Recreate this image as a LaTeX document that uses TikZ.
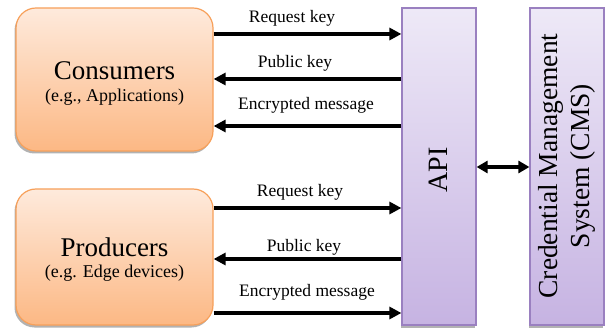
\documentclass[tikz,border=0pt]{standalone}
\usepackage{fontspec}
\setmainfont{Liberation Serif}
\usetikzlibrary{arrows.meta,shadows}
\definecolor{ortop}{HTML}{FEEADC}
\definecolor{orbot}{HTML}{FCB884}
\definecolor{orbd}{HTML}{F7A05A}
\definecolor{putop}{HTML}{EEE9F7}
\definecolor{pubot}{HTML}{C6B3E2}
\definecolor{pubd}{HTML}{9A80C0}
\begin{document}
\begin{tikzpicture}[x=1pt,y=1pt,
  orangebox/.style={draw=orbd, line width=1.2pt, rounded corners=20pt,
    top color=ortop, bottom color=orbot, minimum width=197pt,
    drop shadow={shadow xshift=-1.5pt, shadow yshift=-2.5pt, opacity=0.3, fill=black}},
  purplebox/.style={draw=pubd, line width=1.2pt, top color=putop, bottom color=pubot,
    minimum width=74pt, minimum height=317pt,
    drop shadow={shadow xshift=-1.5pt, shadow yshift=-2.5pt, opacity=0.3, fill=black}},
  bigtxt/.style={font=\fontsize{27}{31}\selectfont, anchor=base, inner sep=0pt},
  subtxt/.style={font=\fontsize{18}{21}\selectfont, anchor=base, inner sep=0pt},
  lbl/.style={font=\fontsize{17.5}{20}\selectfont, anchor=base, inner sep=0pt},
  arr/.style={line width=3.6pt, -{Triangle[length=12pt,width=12pt]}},
  biarr/.style={line width=3.2pt, {Triangle[length=11pt,width=12pt]}-{Triangle[length=11pt,width=12pt]}}
]
\useasboundingbox (0,0) rectangle (607,-328);

\node[orangebox, minimum height=143pt] (cons) at (114.5,-79.5) {};
\node[orangebox, minimum height=136pt] (prod) at (114.5,-257) {};
\node[purplebox] (api) at (439,-166.5) {};
\node[purplebox] (cms) at (567,-166.5) {};

\node[bigtxt] (constxt) at (114.5,-80) {Consumers};
\node[subtxt] (conssub) at (114.5,-102) {(e.g., Applications)};
\node[bigtxt] (prodtxt) at (114.5,-257) {Producers};
\node[subtxt] (prodsub) at (114.5,-278) {(e.g. Edge devices)};

\node[font=\fontsize{28}{32}\selectfont, rotate=90, inner sep=0pt] (apitxt) at (438,-170) {API};
\node[font=\fontsize{27.5}{32}\selectfont, rotate=90, align=center, inner sep=0pt] (cmstxt) at (567,-166) {Credential Management\\System (CMS)};

\coordinate (y1) at (0,-34);
\coordinate (y2) at (0,-79);
\coordinate (y3) at (0,-126);
\coordinate (y4) at (0,-208);
\coordinate (y5) at (0,-259);
\coordinate (y6) at (0,-313);
\draw[arr] (cons.east |- y1) -- (api.west |- y1);
\draw[arr] (api.west |- y2) -- (cons.east |- y2);
\draw[arr] (api.west |- y3) -- (cons.east |- y3);
\draw[arr] (prod.east |- y4) -- (api.west |- y4);
\draw[arr] (api.west |- y5) -- (prod.east |- y5);
\draw[arr] (prod.east |- y6) -- (api.west |- y6);

\node[lbl] (l1) at (292,-23) {Request key};
\node[lbl] (l2) at (295,-68) {Public key};
\node[lbl] (l3) at (306,-110) {Encrypted message};
\node[lbl] (l4) at (300,-197) {Request key};
\node[lbl] (l5) at (304,-252) {Public key};
\node[lbl] (l6) at (307,-297) {Encrypted message};

\coordinate (ymid) at (0,-167);
\draw[biarr] (api.east |- ymid) -- (cms.west |- ymid);
\end{tikzpicture}
\end{document}
